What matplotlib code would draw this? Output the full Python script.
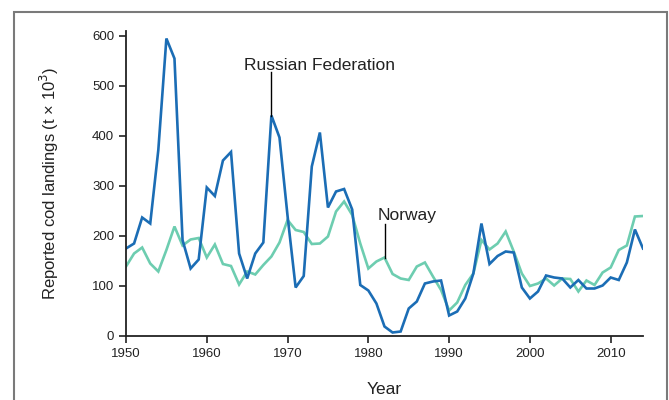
import matplotlib.pyplot as plt
from matplotlib.patches import Rectangle

plt.rcParams['font.family'] = ['Liberation Sans', 'DejaVu Sans']

# Data: reported cod landings (thousand tonnes), 1950-2014
years = list(range(1950, 2015))
russia = [175, 185, 237, 225, 372, 595, 555, 192, 135, 153,
          297, 280, 351, 368, 165, 115, 165, 187, 441, 397,
          240, 97, 120, 339, 407, 257, 289, 294, 253, 102,
          91, 65, 19, 7, 9, 55, 69, 105, 109, 111,
          41, 49, 75, 125, 225, 144, 160, 169, 167, 97,
          75, 89, 121, 117, 115, 97, 112, 95, 95, 101,
          117, 112, 147, 213, 175]
norway = [139, 165, 177, 145, 129, 172, 219, 181, 193, 196,
          157, 183, 144, 140, 103, 129, 123, 142, 159, 187,
          232, 212, 208, 184, 185, 199, 249, 269, 242, 185,
          135, 149, 157, 124, 115, 112, 139, 147, 119, 92,
          51, 67, 102, 125, 192, 173, 185, 209, 169, 125,
          100, 105, 115, 101, 115, 114, 89, 111, 102, 127,
          137, 172, 181, 239, 240]

blue = '#1b6db5'
green = '#6dcdb0'

fig = plt.figure(figsize=(6.69, 4), dpi=100)
ax = fig.add_axes([126 / 669, 64 / 400, 517 / 669, 305 / 400])

ax.plot(years, norway, color=green, lw=1.9, solid_joinstyle='miter')
ax.plot(years, russia, color=blue, lw=1.9, solid_joinstyle='miter')

ax.set_xlim(1950, 2014)
ax.set_ylim(0, 610)
ax.set_xticks([1950, 1960, 1970, 1980, 1990, 2000, 2010])
ax.set_yticks([0, 100, 200, 300, 400, 500, 600])
ax.tick_params(labelsize=9.5, length=5, width=1.2, direction='out', colors='#222222')
for s in ['top', 'right']:
    ax.spines[s].set_visible(False)
for s in ['left', 'bottom']:
    ax.spines[s].set_linewidth(1.3)
    ax.spines[s].set_color('#222222')

ax.set_ylabel('Reported cod landings (t × 10$^3$)', fontsize=12, labelpad=22, color='#222222')

# Labels with vertical leader lines
ax.plot([1968, 1968], [441, 528], color='black', lw=1)
ax.text(1964.6, 532, 'Russian Federation', fontsize=12.5, ha='left', va='baseline', color='#222222')
ax.plot([1982, 1982], [157, 224], color='black', lw=1)
ax.text(1981.2, 232, 'Norway', fontsize=12.5, ha='left', va='baseline', color='#222222')

fig.text(384 / 669, 10 / 400, 'Year', fontsize=12.5, ha='center', va='center', color='#222222')

# Frame around the figure
fig.patches.append(Rectangle((14 / 669, -0.1), 653 / 669, 1.1 - 12 / 400, transform=fig.transFigure,
                             fill=False, edgecolor='#7a7a7a', lw=1.5))

fig.savefig('out.png', dpi=100)
